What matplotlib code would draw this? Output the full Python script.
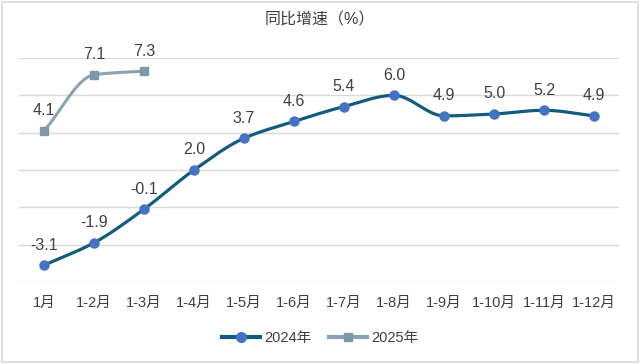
import numpy as np
import matplotlib.pyplot as plt
from matplotlib.patches import Rectangle

plt.rcParams['font.family'] = ['Liberation Sans', 'Noto Sans CJK SC']

months = ["1月", "1-2月", "1-3月", "1-4月", "1-5月", "1-6月",
          "1-7月", "1-8月", "1-9月", "1-10月", "1-11月", "1-12月"]
growth_2024 = [-3.1, -1.9, -0.1, 2.0, 3.7, 4.6, 5.4, 6.0, 4.9, 5.0, 5.2, 4.9]
growth_2025 = [4.1, 7.1, 7.3]

COLOR_2024 = "#135C7E"
MARKER_2024 = "#4472C4"
COLOR_2025 = "#89A3B2"
MARKER_2025 = "#7D99A9"
TEXT_COLOR = "#404040"


def smooth(x, y, n=30):
    ## monotone cubic (fritsch-carlson) through the points, close to excel's smoothed line
    x = np.asarray(x, dtype=float)
    y = np.asarray(y, dtype=float)
    h = np.diff(x)
    d = np.diff(y) / h
    m = np.zeros_like(y)
    m[0], m[-1] = d[0], d[-1]
    for i in range(1, len(y) - 1):
        if d[i - 1] * d[i] > 0:
            m[i] = 2 * d[i - 1] * d[i] / (d[i - 1] + d[i])
    xs, ys = [], []
    t = np.linspace(0, 1, n, endpoint=False)
    for i in range(len(x) - 1):
        h00 = 2 * t ** 3 - 3 * t ** 2 + 1
        h10 = t ** 3 - 2 * t ** 2 + t
        h01 = -2 * t ** 3 + 3 * t ** 2
        h11 = t ** 3 - t ** 2
        xs.extend(x[i] + t * h[i])
        ys.extend(h00 * y[i] + h10 * h[i] * m[i] + h01 * y[i + 1] + h11 * h[i] * m[i + 1])
    xs.append(x[-1])
    ys.append(y[-1])
    return np.array(xs), np.array(ys)


fig = plt.figure(figsize=(6.4, 3.64), dpi=100)
ax = fig.add_axes([19 / 640, 82 / 364, 600 / 640, 224 / 364])

x24 = np.arange(len(growth_2024))
x25 = np.arange(len(growth_2025))

sx, sy = smooth(x24, growth_2024)
ax.plot(sx, sy, color=COLOR_2024, lw=2.3, zorder=3, solid_capstyle="round")
ax.plot(x24, growth_2024, ls="none", marker="o", ms=6.5,
        color=MARKER_2024, zorder=4)

sx, sy = smooth(x25, growth_2025)
ax.plot(sx, sy, color=COLOR_2025, lw=2.2, zorder=3, solid_capstyle="round")
ax.plot(x25, growth_2025, ls="none", marker="s", ms=6,
        color=MARKER_2025, zorder=4)

for xs, vals in ((x24, growth_2024), (x25, growth_2025)):
    for xi, v in zip(xs, vals):
        ax.annotate(f"{v:.1f}", (xi, v), xytext=(0, 9), textcoords="offset points",
                    ha="center", va="bottom", fontsize=11.5, color=TEXT_COLOR)

ax.set_xlim(-0.5, len(months) - 0.5)
ax.set_ylim(-4, 8)
ax.set_yticks(np.arange(-4, 9, 2))
ax.set_yticklabels([])
ax.set_xticks(x24)
ax.set_xticklabels(months, fontsize=10.5, color=TEXT_COLOR)
ax.tick_params(axis="both", length=0)
ax.tick_params(axis="x", pad=10)
ax.grid(axis="y", color="#D9D9D9", lw=1)
ax.set_axisbelow(True)
for s in ax.spines.values():
    s.set_visible(False)

fig.text(0.5, 1 - 20 / 364, "同比增速（%）", ha="center", va="center",
         fontsize=11.5, color=TEXT_COLOR)

h1, = ax.plot([], [], color=COLOR_2024, lw=3, marker="o", ms=7,
              markerfacecolor=MARKER_2024, markeredgecolor=MARKER_2024)
h2, = ax.plot([], [], color=COLOR_2025, lw=3, marker="s", ms=6,
              markerfacecolor=MARKER_2025, markeredgecolor=MARKER_2025)
fig.legend([h1, h2], ["2024年", "2025年"], loc="center",
           bbox_to_anchor=(0.5, 1 - 338 / 364), ncol=2, frameon=False,
           fontsize=10.5, labelcolor=TEXT_COLOR, handlelength=2.6,
           handletextpad=0.3, columnspacing=1.2)

fig.patches.append(Rectangle((0.003, 0.005), 0.994, 0.99, transform=fig.transFigure,
                             fill=False, edgecolor="#D9D9D9", lw=1.2))

fig.savefig("out.png", dpi=100)
